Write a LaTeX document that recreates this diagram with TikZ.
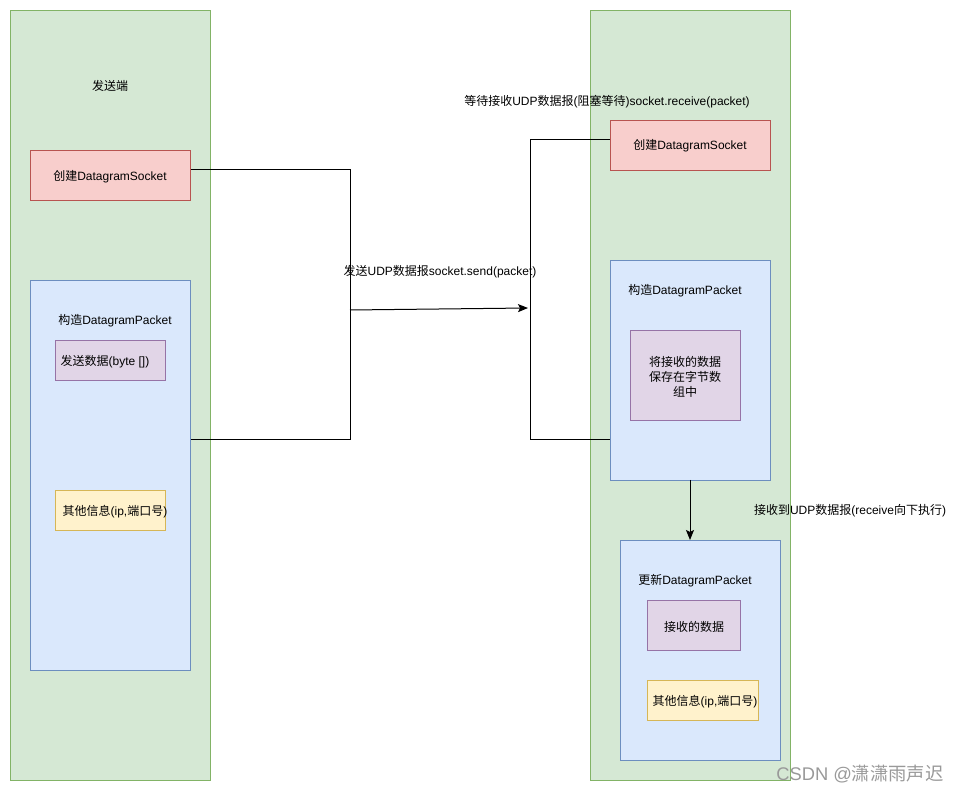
\documentclass[tikz,border=0pt]{standalone}
\usepackage{fontspec}
\setmainfont{Liberation Sans}
\newfontfamily\cjk{Noto Sans CJK SC}
\usetikzlibrary{arrows.meta}
\definecolor{gfill}{HTML}{D5E8D4}\definecolor{gdraw}{HTML}{82B366}
\definecolor{rfill}{HTML}{F8CECC}\definecolor{rdraw}{HTML}{B85450}
\definecolor{bfill}{HTML}{DAE8FC}\definecolor{bdraw}{HTML}{6C8EBF}
\definecolor{pfill}{HTML}{E1D5E7}\definecolor{pdraw}{HTML}{9673A6}
\definecolor{yfill}{HTML}{FFF2CC}\definecolor{ydraw}{HTML}{D6B656}
\begin{document}
\begin{tikzpicture}[x=0.75pt,y=-0.75pt,
  box/.style={rectangle,draw,line width=0.75pt,anchor=north west,inner sep=0pt},
  gbox/.style={box,fill=gfill,draw=gdraw},
  rbox/.style={box,fill=rfill,draw=rdraw},
  bbox/.style={box,fill=bfill,draw=bdraw},
  pbox/.style={box,fill=pfill,draw=pdraw},
  ybox/.style={box,fill=yfill,draw=ydraw},
  lbl/.style={inner sep=0pt,yshift=-1.5pt,font=\fontsize{9}{11.25}\selectfont,align=center},
  conn/.style={line width=0.75pt,black},
  arr/.style={conn,-{Stealth[length=7.5pt,width=6pt,inset=1.5pt]}}]
\useasboundingbox (0,0) rectangle (961,791);
% containers
\node[gbox,minimum width=150pt,minimum height=577.5pt] (sendArea) at (10,10) {};
\node[gbox,minimum width=150pt,minimum height=577.5pt] (recvArea) at (590,10) {};
% left side
\node[rbox,minimum width=120pt,minimum height=37.5pt] (redL) at (30,150) {};
\node[bbox,minimum width=120pt,minimum height=292.5pt] (blueL) at (30,280) {};
\node[pbox,minimum width=82.5pt,minimum height=30pt] (purL) at (55,340) {};
\node[ybox,minimum width=82.5pt,minimum height=30pt] (yelL) at (55,490) {};
% right side
\node[rbox,minimum width=120pt,minimum height=37.5pt] (redR) at (610,120) {};
\node[bbox,minimum width=120pt,minimum height=165pt] (blueR) at (610,260) {};
\node[pbox,minimum width=82.5pt,minimum height=67.5pt] (purR) at (630,330) {};
\node[bbox,minimum width=120pt,minimum height=165pt] (blueR2) at (620,540) {};
\node[pbox,minimum width=69.75pt,minimum height=37.5pt] (purR2) at (647,600) {};
\node[ybox,minimum width=83.25pt,minimum height=30pt] (yelR2) at (647,680) {};
% labels
\node[lbl] (tSend) at (110,84) {{\cjk 发送端}};
\node[lbl] (tRedL) at (110,175) {{\cjk 创建}DatagramSocket};
\node[lbl] (tBlueL) at (115,319) {{\cjk 构造}DatagramPacket};
\node[lbl] (tPurL) at (105,360) {{\cjk 发送数据}(byte [])};
\node[lbl] (tYelL) at (115,510) {{\cjk 其他信息}(ip,{\cjk 端口号})};
\node[lbl] (tWait) at (607,100) {{\cjk 等待接收}UDP{\cjk 数据报}({\cjk 阻塞等待})socket.receive(packet)};
\node[lbl] (tSendUdp) at (440,270) {{\cjk 发送}UDP{\cjk 数据报}socket.send(packet)};
\node[lbl] (tRedR) at (690,144) {{\cjk 创建}DatagramSocket};
\node[lbl] (tBlueR) at (685,289) {{\cjk 构造}DatagramPacket};
\node[lbl] (tPurR) at (685,375) {{\cjk 将接收的数据}\\{\cjk 保存在字节数}\\{\cjk 组中}};
\node[lbl] (tRecv) at (850,509) {{\cjk 接收到}UDP{\cjk 数据报}(receive{\cjk 向下执行})};
\node[lbl] (tBlueR2) at (695,579) {{\cjk 更新}DatagramPacket};
\node[lbl] (tPurR2) at (694,625) {{\cjk 接收的数据}};
\node[lbl] (tYelR2) at (705,700) {{\cjk 其他信息}(ip,{\cjk 端口号})};
\node[lbl,font=\fontsize{13.75}{15}\selectfont,text=black!40] (wm) at (860,772) {CSDN @{\cjk 潇潇雨声迟}};
% connectors
\coordinate (a1) at (350,170);
\coordinate (a2) at (350,440);
\draw[conn] (redL.east |- a1) -- (a1) -- (a2) -- (blueL.east |- a2);
\coordinate (s1) at (350,310);
\coordinate (s2) at (528,308);
\draw[arr] (s1) -- (s2);
\coordinate (b1) at (530,140);
\coordinate (b2) at (530,440);
\draw[conn] (redR.west |- b1) -- (b1) -- (b2) -- (blueR.west |- b2);
\coordinate (d1) at (690,480);
\draw[arr] (d1) -- (d1 |- blueR2.north);
\end{tikzpicture}
\end{document}
